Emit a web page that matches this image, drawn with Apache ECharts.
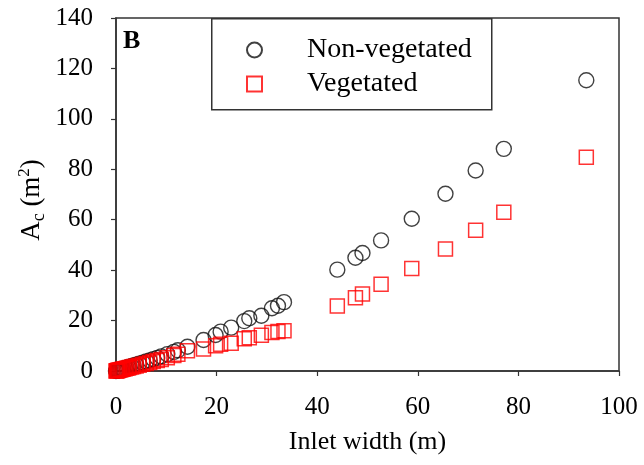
<!DOCTYPE html>
<html>
<head>
<meta charset="utf-8">
<script src="https://cdn.jsdelivr.net/npm/echarts@6/dist/echarts.min.js"></script>
<style>
html,body{margin:0;padding:0;background:#fff;}
#chart{width:644px;height:465px;}
</style>
</head>
<body>
<div id="chart"></div>
<script>
// Inlet widths (m), shared by both series
var inletWidth = [0, 0.1, 0.2, 0.3, 0.4, 0.5, 0.7, 0.9, 1.1, 1.3, 1.5, 1.8, 2.1, 2.4, 2.7, 3.1, 3.5, 4.0, 4.6, 5.3, 6.0, 6.7, 7.4, 8.2, 9.0, 10.2, 11.5, 12.3, 14.2, 17.4, 19.8, 20.8, 22.9, 25.5, 26.5, 28.9, 31.0, 32.2, 33.4, 44.0, 47.6, 49.0, 52.7, 58.8, 65.5, 71.5, 77.1, 93.5];
// A_c (m^2), non-vegetated
var nonVegetated = [0, 0.05, 0.1, 0.2, 0.25, 0.3, 0.4, 0.5, 0.7, 0.8, 0.9, 1.1, 1.3, 1.5, 1.7, 1.9, 2.2, 2.5, 2.9, 3.3, 3.8, 4.2, 4.7, 5.2, 5.8, 6.7, 7.6, 8.2, 9.6, 12.3, 14.3, 15.6, 17.2, 19.8, 20.9, 21.9, 24.9, 25.9, 27.3, 40.2, 44.9, 46.8, 51.8, 60.4, 70.3, 79.5, 88.1, 115.3];
// A_c (m^2), vegetated
var vegetated = [0, 0.05, 0.1, 0.15, 0.2, 0.25, 0.35, 0.45, 0.55, 0.65, 0.75, 0.9, 1.05, 1.2, 1.35, 1.55, 1.75, 2.0, 2.3, 2.7, 3.0, 3.4, 3.8, 4.2, 4.6, 5.3, 6.1, 6.6, 8.0, 8.7, 10.0, 10.6, 11.0, 12.8, 13.2, 14.2, 15.3, 15.7, 16.0, 25.8, 29.1, 30.5, 34.4, 40.7, 48.4, 55.8, 63.0, 84.8];
var seriesNames = ['Non-vegetated', 'Vegetated'];
var xTicks = [0, 20, 40, 60, 80, 100];
var yTicks = [0, 20, 40, 60, 80, 100, 120, 140];

function pairs(xs, ys) { return xs.map(function (x, i) { return [x, ys[i]]; }); }

var FONT = "'Liberation Serif', 'Times New Roman', serif";
var chart = echarts.init(document.getElementById('chart'), null, {renderer: 'canvas'});
chart.setOption({
  backgroundColor: '#fff',
  animation: false,
  grid: {left: 116, top: 18, right: 25, bottom: 94, show: true, borderColor: '#333', borderWidth: 1.5, backgroundColor: 'transparent'},
  xAxis: {
    type: 'value', min: xTicks[0], max: xTicks[xTicks.length - 1], interval: 20,
    axisLine: {lineStyle: {color: '#333', width: 1.5}},
    axisTick: {show: true, inside: false, length: 5, lineStyle: {color: '#333', width: 1.2}},
    axisLabel: {color: '#000', fontFamily: FONT, fontSize: 25, margin: 24},
    splitLine: {show: false},
    name: 'Inlet width (m)', nameLocation: 'middle', nameGap: 58,
    nameTextStyle: {color: '#000', fontFamily: FONT, fontSize: 26}
  },
  yAxis: {
    type: 'value', min: yTicks[0], max: yTicks[yTicks.length - 1], interval: 20,
    axisLine: {lineStyle: {color: '#333', width: 1.5}},
    axisTick: {show: true, inside: false, length: 5, lineStyle: {color: '#333', width: 1.2}},
    axisLabel: {color: '#000', fontFamily: FONT, fontSize: 25, margin: 23},
    splitLine: {show: false}
  },
  legend: {
    orient: 'vertical', left: 241, top: 31, itemWidth: 15, itemHeight: 15, itemGap: 6,
    data: seriesNames,
    textStyle: {color: '#000', fontFamily: FONT, fontSize: 28, padding: [0, 0, 0, 40]}
  },
  graphic: [
    {type: 'rect', left: 211, top: 18, z: 5, shape: {width: 280, height: 91}, style: {fill: 'transparent', stroke: '#333', lineWidth: 1.5}, silent: true},
    {type: 'text', left: 123, top: 28, z: 10, style: {text: 'B', font: "bold 26px 'Liberation Serif', serif", fill: '#000'}},
    {type: 'text', x: 32, y: 200, rotation: Math.PI / 2, z: 10,
      style: {
        text: '{a|A}{s|c}{a| (m}{p|2}{a|)}',
        align: 'center', verticalAlign: 'middle',
        rich: {
          a: {fontFamily: FONT, fontSize: 27, fill: '#000', lineHeight: 36, verticalAlign: 'middle'},
          s: {fontFamily: FONT, fontSize: 18, fill: '#000', lineHeight: 36, verticalAlign: 'bottom', padding: [0, 0, 2, 0]},
          p: {fontFamily: FONT, fontSize: 17, fill: '#000', lineHeight: 36, verticalAlign: 'top', padding: [2, 0, 0, 0]}
        }
      }
    }
  ],
  series: [
    {
      name: seriesNames[0], type: 'scatter', symbol: 'circle', symbolSize: 15,
      itemStyle: {color: 'rgba(255,255,255,0)', borderColor: '#111', borderWidth: 1.4},
      data: pairs(inletWidth, nonVegetated), z: 2
    },
    {
      name: seriesNames[1], type: 'scatter', symbol: 'rect', symbolSize: 14,
      itemStyle: {color: 'rgba(255,255,255,0)', borderColor: '#ff0000', borderWidth: 1.5},
      data: pairs(inletWidth, vegetated), z: 3
    }
  ]
});
</script>
</body>
</html>
